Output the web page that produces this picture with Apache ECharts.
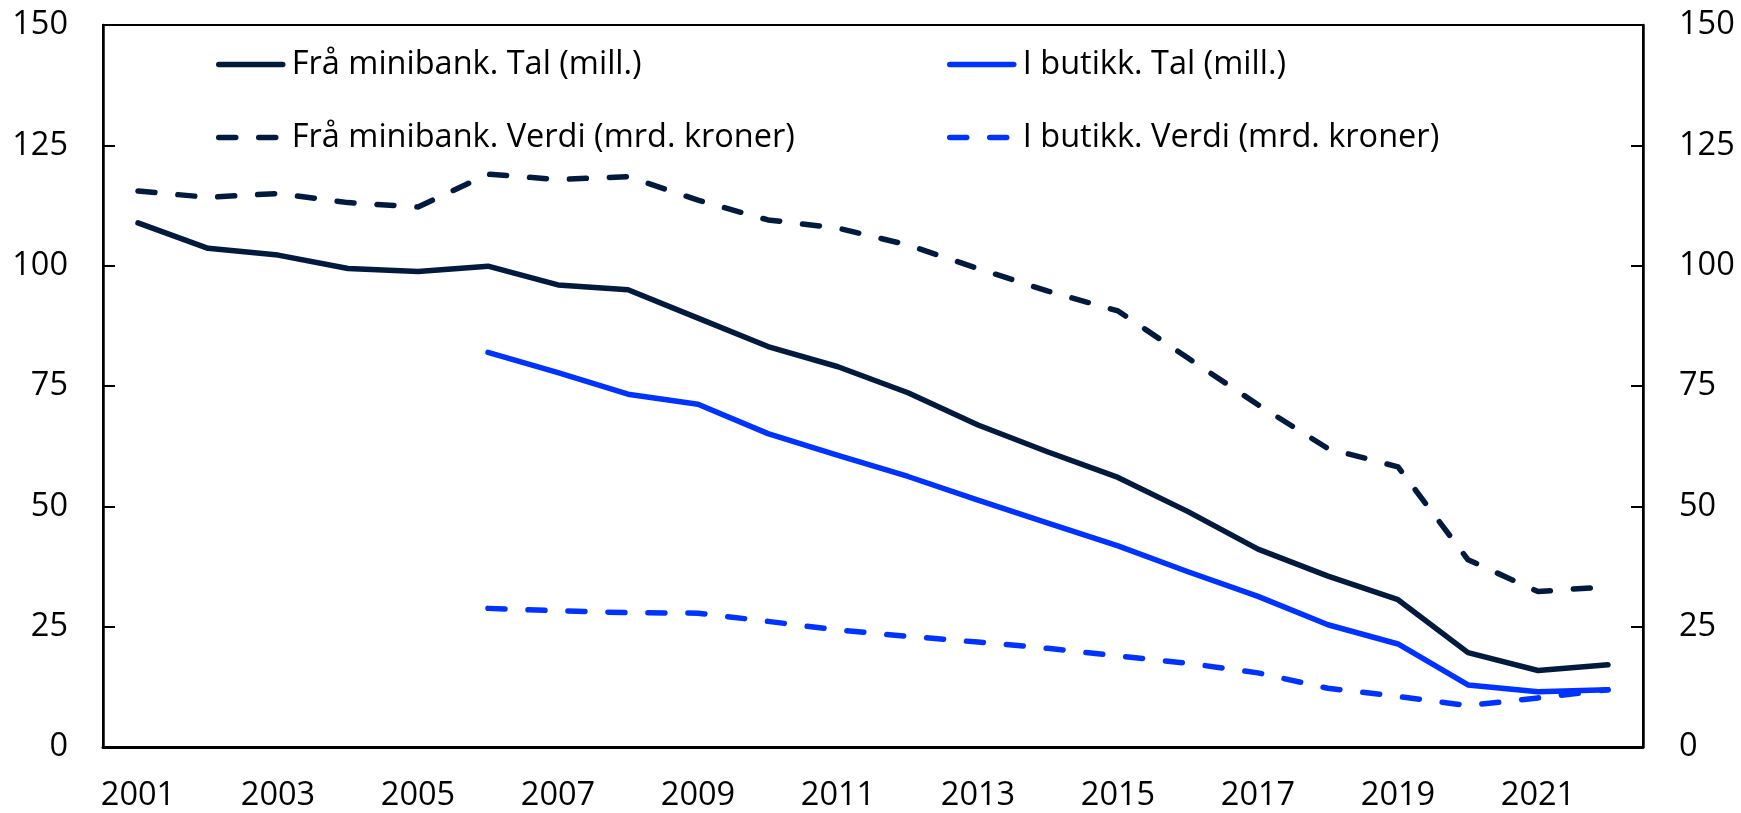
<!DOCTYPE html>
<html>
<head>
<meta charset="utf-8">
<script src="https://cdn.jsdelivr.net/npm/echarts@6.0.0/dist/echarts.min.js"></script>
<style>
  html, body { margin:0; padding:0; background:#fff; }
  #chart { width:1741px; height:813px; }
</style>
</head>
<body>
<div id="chart"></div>
<script>
const years = ['2001','2002','2003','2004','2005','2006','2007','2008','2009','2010','2011',
  '2012','2013','2014','2015','2016','2017','2018','2019','2020','2021','2022'];

const minibankTal = [108.9, 103.6, 102.2, 99.4, 98.8, 99.9, 96.0, 95.0, 89.1, 83.2, 79.0,
  73.6, 66.9, 61.3, 56.0, 48.9, 41.1, 35.5, 30.6, 19.6, 15.9, 17.1];
const minibankVerdi = [115.5, 114.2, 115.0, 113.1, 112.2, 119.0, 117.9, 118.5, 113.6, 109.5, 107.8,
  104.3, 99.4, 94.7, 90.6, 80.8, 71.1, 62.0, 58.2, 38.9, 32.3, 33.3];
const butikkTal = [null, null, null, null, null, 82.0, 77.8, 73.3, 71.2, 65.1, 60.6,
  56.2, 51.3, 46.5, 41.8, 36.4, 31.3, 25.4, 21.4, 12.9, 11.5, 11.9];
const butikkVerdi = [null, null, null, null, null, 28.8, 28.3, 27.9, 27.8, 26.1, 24.3,
  23.0, 21.8, 20.5, 18.9, 17.4, 15.4, 12.2, 10.5, 8.6, 10.2, 11.9];

const yTicks = { min: 0, max: 150, interval: 25 };

const navy = '#031a3f';
const blue = '#0033ff';
const font = 'Open Sans';
const fs = 32.5;

const chart = echarts.init(document.getElementById('chart'));

const line = (name, data, color, dashed) => ({
  name, type: 'line', data, symbol: 'none', connectNulls: false,
  lineStyle: { color, width: 5.5, type: dashed ? [17, 23] : 'solid', cap: 'round', join: 'round' },
  itemStyle: { color }
});

const legendBase = {
  orient: 'vertical', top: 43, itemWidth: 64, itemHeight: 14, itemGap: 40,
  itemStyle: { opacity: 0 },
  lineStyle: { width: 5.5, cap: 'round' },
  textStyle: { fontFamily: font, fontSize: fs, color: '#000', lineHeight: 32, padding: [0, 0, 0, 4] },
  selectedMode: false
};

chart.setOption({
  animation: false,
  textStyle: { fontFamily: font },
  grid: { left: 103, right: 98, top: 25, bottom: 66, show: true, borderColor: '#000', borderWidth: 2 },
  legend: [
    Object.assign({}, legendBase, { left: 211, data: ['Frå minibank. Tal (mill.)', 'Frå minibank. Verdi (mrd. kroner)'] }),
    Object.assign({}, legendBase, { left: 942, data: ['I butikk. Tal (mill.)', 'I butikk. Verdi (mrd. kroner)'] })
  ],
  xAxis: {
    type: 'category', data: years, boundaryGap: true,
    axisLine: { lineStyle: { color: '#000', width: 3 } },
    axisTick: { inside: true, length: 12, interval: 0, lineStyle: { color: '#000', width: 2 } },
    axisLabel: { interval: 1, margin: 32, fontFamily: font, fontSize: fs, color: '#000' },
    splitLine: { show: false }
  },
  yAxis: [
    {
      type: 'value', position: 'left', min: yTicks.min, max: yTicks.max, interval: yTicks.interval,
      axisLine: { show: true, lineStyle: { color: '#000', width: 2.5 } },
      axisTick: { show: true, inside: true, length: 12, lineStyle: { color: '#000', width: 2 } },
      axisLabel: { margin: 35, fontFamily: font, fontSize: fs, color: '#000' },
      splitLine: { show: false }
    },
    {
      type: 'value', position: 'right', min: yTicks.min, max: yTicks.max, interval: yTicks.interval,
      axisLine: { show: true, lineStyle: { color: '#000', width: 2.5 } },
      axisTick: { show: true, inside: true, length: 12, lineStyle: { color: '#000', width: 2 } },
      axisLabel: { margin: 36, fontFamily: font, fontSize: fs, color: '#000' },
      splitLine: { show: false }
    }
  ],
  series: [
    line('Frå minibank. Tal (mill.)', minibankTal, navy, false),
    line('I butikk. Tal (mill.)', butikkTal, blue, false),
    line('Frå minibank. Verdi (mrd. kroner)', minibankVerdi, navy, true),
    line('I butikk. Verdi (mrd. kroner)', butikkVerdi, blue, true)
  ]
});
</script>
</body>
</html>
